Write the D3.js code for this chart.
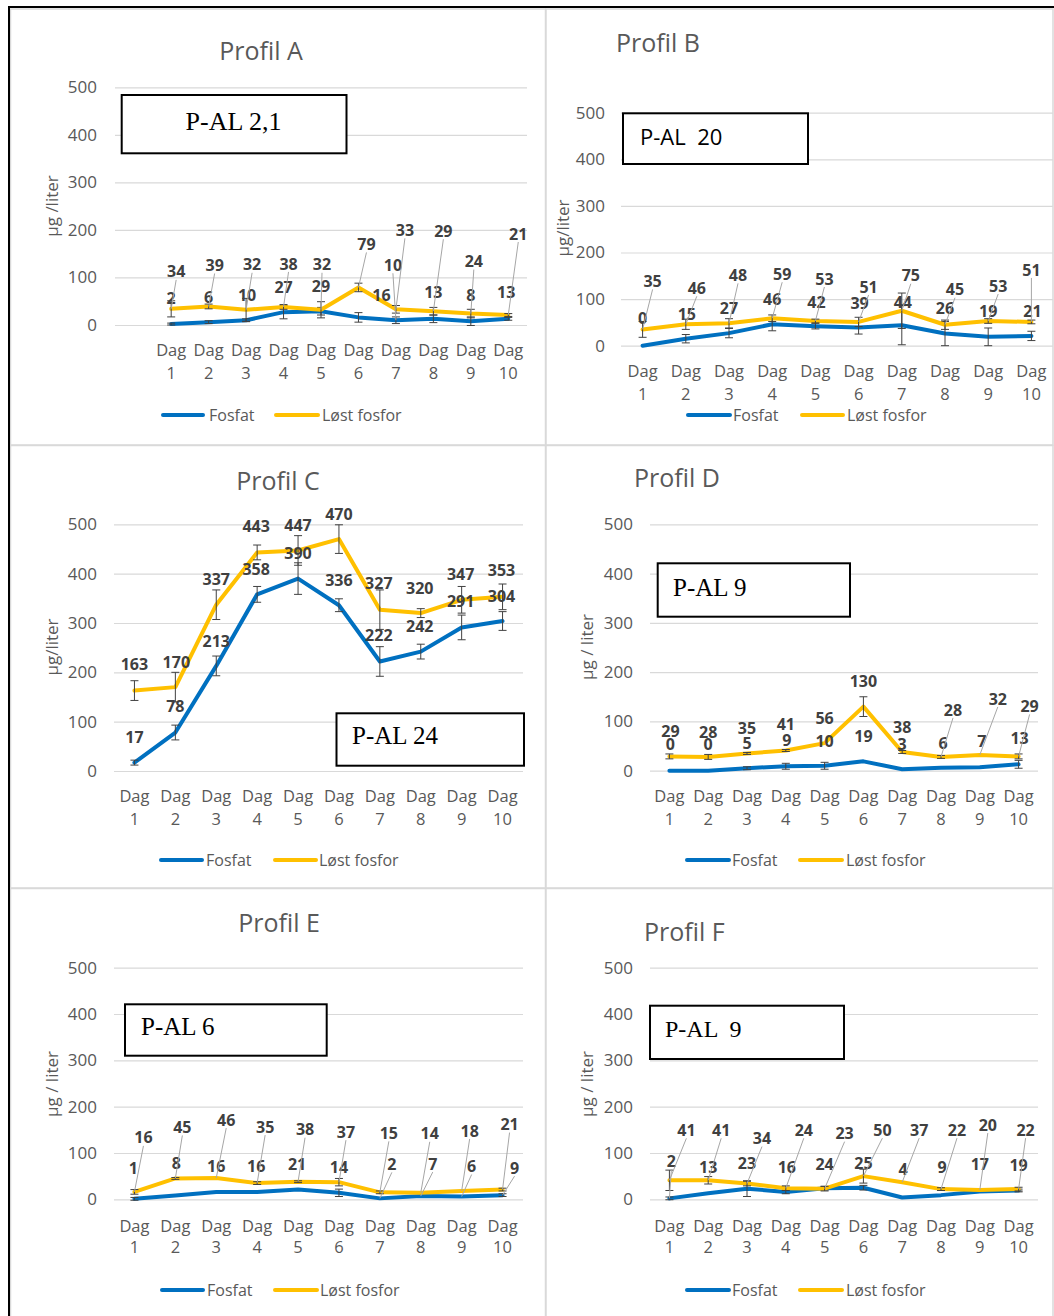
<!DOCTYPE html>
<html>
<head>
<meta charset="utf-8">
<script src="https://cdn.jsdelivr.net/npm/d3@7"></script>
<style>
  html, body { margin: 0; padding: 0; background: #fff; }
  svg { display: block; }
</style>
</head>
<body>
<svg id="chart" width="1054" height="1316"></svg>
<script>
// ---- shared categories and labels ----
const days = ["Dag 1", "Dag 2", "Dag 3", "Dag 4", "Dag 5", "Dag 6", "Dag 7", "Dag 8", "Dag 9", "Dag 10"];
const yTicks = [0, 100, 200, 300, 400, 500];
const seriesNames = ["Fosfat", "Løst fosfor"];
const profileTitles = ["Profil A", "Profil B", "Profil C", "Profil D", "Profil E", "Profil F"];
const palLabels = ["P-AL 2,1", "P-AL  20", "P-AL 24", "P-AL 9", "P-AL 6", "P-AL  9"];
const yAxisTitles = ["µg /liter", "µg/liter", "µg/liter", "µg / liter", "µg / liter", "µg / liter"];

// ---- measured values, µg/liter ----
const fosfatA = [2, 6, 10, 27, 29, 16, 10, 13, 8, 13];
const lostA   = [34, 39, 32, 38, 32, 79, 33, 29, 24, 21];
const sdFosfatA = [2, 3, 3, 14, 8, 10, 7, 8, 9, 3];
const sdLostA   = [17, 5, 24, 5, 17, 9, 8, 8, 9, 3];

const fosfatB = [0, 15, 27, 46, 42, 39, 44, 26, 19, 21];
const lostB   = [35, 46, 48, 59, 53, 51, 75, 45, 53, 51];
const sdFosfatB = [0, 9, 10, 14, 6, 14, 42, 26, 19, 10];
const sdLostB   = [17, 11, 10, 7, 4, 10, 38, 10, 5, 4];

const fosfatC = [17, 78, 213, 358, 390, 336, 222, 242, 291, 304];
const lostC   = [163, 170, 337, 443, 447, 470, 327, 320, 347, 353];
const sdFosfatC = [5, 15, 20, 16, 32, 13, 30, 15, 25, 19];
const sdLostC   = [20, 30, 30, 15, 30, 29, 40, 9, 27, 26];

const fosfatD = [0, 0, 5, 9, 10, 19, 3, 6, 7, 13];
const lostD   = [29, 28, 35, 41, 56, 130, 38, 28, 32, 29];
const sdFosfatD = [0, 0, 3, 6, 7, 0, 0, 0, 0, 8];
const sdLostD   = [5, 5, 2, 2, 0, 20, 3, 3, 0, 5];

const fosfatE = [1, 8, 16, 16, 21, 14, 2, 7, 6, 9];
const lostE   = [16, 45, 46, 35, 38, 37, 15, 14, 18, 21];
const sdFosfatE = [3, 0, 0, 0, 0, 8, 0, 0, 0, 3];
const sdLostE   = [5, 2, 0, 3, 2, 8, 3, 0, 0, 3];

const fosfatF = [2, 13, 23, 16, 24, 25, 4, 9, 17, 19];
const lostF   = [41, 41, 34, 24, 23, 50, 37, 22, 20, 22];
const sdFosfatF = [3, 0, 17, 4, 4, 5, 0, 0, 0, 3];
const sdLostF   = [22, 8, 5, 5, 5, 15, 0, 3, 0, 4];

// ---- value-label placement (pixel shift from the point) ----
const shiftFosfatA = [[0,-26],[0,-25],[1,-25],[0,-25],[0,-25],[23,-22],[-3,-55],[0,-26],[0,-26],[-2,-26]];
const shiftLostA   = [[5,-37],[6,-41],[6,-45],[5,-43],[1,-45],[8,-43],[9,-79],[10,-80],[3,-52],[10,-81]];
const shiftFosfatB = [[0,-27],[1,-24],[0,-25],[0,-25],[1,-24],[1,-24],[1,-23],[0,-25],[0,-25],[1,-25]];
const shiftLostB   = [[10,-48],[11,-36],[9,-48],[10,-44],[9,-42],[10,-35],[9,-35],[10,-35],[10,-35],[0,-52]];
const shiftFosfatC = [[0,-25],[0,-26],[0,-25],[-1,-25],[0,-25],[0,-25],[-1,-26],[-1,-25],[-1,-26],[-1,-25]];
const shiftLostC   = [[0,-26],[1,-25],[0,-25],[-1,-26],[0,-25],[0,-25],[-1,-26],[-1,-25],[-1,-25],[-1,-26]];
const shiftFosfatD = [[1,-26],[0,-26],[0,-25],[1,-26],[0,-24],[0,-25],[0,-25],[2,-24],[2,-26],[1,-26]];
const shiftLostD   = [[1,-25],[0,-25],[0,-25],[0,-26],[0,-25],[0,-25],[0,-25],[12,-47],[18,-56],[11,-50]];
const shiftFosfatE = [[-1,-30],[1,-32],[0,-25],[-1,-25],[-1,-25],[0,-25],[12,-34],[12,-32],[10,-30],[12,-27]];
const shiftLostE   = [[9,-54],[7,-51],[10,-58],[8,-56],[7,-52],[7,-50],[9,-59],[9,-59],[8,-60],[7,-65]];
const shiftFosfatF = [[2,-37],[0,-26],[0,-25],[1,-24],[0,-24],[0,-24],[1,-28],[1,-28],[0,-27],[0,-25]];
const shiftLostF   = [[17,-50],[13,-50],[15,-45],[18,-58],[20,-55],[19,-46],[17,-52],[16,-59],[8,-65],[7,-59]];

// ---- panel layout ----
const layouts = [
  { frame: [10.5, 9, 535, 436], title: [261, 51, "middle"], y0: 325, y500: 87.3, gx: [115, 527], lead: 1,
    tickRight: 97, yTitle: [52, 206], dagY: 350, numY: 373,
    legend: { y: 415, s1: [163, 203], t1: 209, s2: [276, 318], t2: 322 },
    box: [121.7, 95, 224.8, 58.3], boxText: [233.5, 130, "middle"], boxFont: "'Liberation Serif', serif", boxSize: 26 },
  { frame: [546, 9, 507, 436], title: [616, 43, "start"], y0: 345.7, y500: 112.7, gx: [621, 1053], lead: 0,
    tickRight: 605, yTitle: [563, 228], dagY: 371, numY: 394,
    legend: { y: 415, s1: [688, 730], t1: 733, s2: [802, 843], t2: 847 },
    box: [623, 113.3, 185, 50.7], boxText: [640, 145, "start"], boxFont: "'Open Sans', sans-serif", boxSize: 22 },
  { frame: [10.5, 445.5, 535, 442.5], title: [278, 481, "middle"], y0: 771, y500: 524.3, gx: [114, 523], lead: 0,
    tickRight: 97, yTitle: [52, 647], dagY: 796, numY: 819,
    legend: { y: 860, s1: [161, 202], t1: 206, s2: [275, 316], t2: 319 },
    box: [336.5, 713.3, 187.5, 52.4], boxText: [352, 744, "start"], boxFont: "'Liberation Serif', serif", boxSize: 25 },
  { frame: [546, 445.5, 507, 442.5], title: [634, 478, "start"], y0: 770.7, y500: 524.3, gx: [650, 1038], lead: 0,
    tickRight: 633, yTitle: [587, 647], dagY: 796, numY: 819,
    legend: { y: 860, s1: [687, 729], t1: 732, s2: [800, 842], t2: 846 },
    box: [657.7, 563.3, 192.3, 53.4], boxText: [673, 596, "start"], boxFont: "'Liberation Serif', serif", boxSize: 25 },
  { frame: [10.5, 888.5, 535, 430], title: [279, 923, "middle"], y0: 1199.3, y500: 967.7, gx: [114, 523], lead: 0,
    tickRight: 97, yTitle: [52, 1084], dagY: 1226, numY: 1247,
    legend: { y: 1290, s1: [162, 203], t1: 207, s2: [275, 317], t2: 320 },
    box: [125, 1004.3, 201.7, 51.4], boxText: [141, 1035, "start"], boxFont: "'Liberation Serif', serif", boxSize: 25 },
  { frame: [546, 888.5, 507, 430], title: [644, 932, "start"], y0: 1199.3, y500: 967.7, gx: [650, 1038], lead: 0,
    tickRight: 633, yTitle: [587, 1084], dagY: 1226, numY: 1247,
    legend: { y: 1290, s1: [687, 729], t1: 732, s2: [800, 842], t2: 846 },
    box: [650, 1005.7, 194, 53.3], boxText: [665, 1037, "start"], boxFont: "'Liberation Serif', serif", boxSize: 24 }
];

const panels = [
  { fos: fosfatA, lost: lostA, sdF: sdFosfatA, sdL: sdLostA, shF: shiftFosfatA, shL: shiftLostA },
  { fos: fosfatB, lost: lostB, sdF: sdFosfatB, sdL: sdLostB, shF: shiftFosfatB, shL: shiftLostB },
  { fos: fosfatC, lost: lostC, sdF: sdFosfatC, sdL: sdLostC, shF: shiftFosfatC, shL: shiftLostC },
  { fos: fosfatD, lost: lostD, sdF: sdFosfatD, sdL: sdLostD, shF: shiftFosfatD, shL: shiftLostD },
  { fos: fosfatE, lost: lostE, sdF: sdFosfatE, sdL: sdLostE, shF: shiftFosfatE, shL: shiftLostE },
  { fos: fosfatF, lost: lostF, sdF: sdFosfatF, sdL: sdLostF, shF: shiftFosfatF, shL: shiftLostF }
];

const BLUE = "#0070C0", YELLOW = "#FFC000";
const FONT = "'Open Sans', sans-serif";
const GREY_TEXT = "#595959", LABEL_TEXT = "#404040";

const svg = d3.select("#chart");
svg.append("rect").attr("width", 1054).attr("height", 1316).attr("fill", "#fff");

panels.forEach((p, k) => {
  const L = layouts[k];
  const g = svg.append("g");

  // chart-area outline
  g.append("rect")
    .attr("x", L.frame[0]).attr("y", L.frame[1])
    .attr("width", L.frame[2]).attr("height", L.frame[3])
    .attr("fill", "#fff").attr("stroke", "#d9d9d9").attr("stroke-width", 1.5);

  const y = d3.scaleLinear().domain([0, 500]).range([L.y0, L.y500]);
  const step = (L.gx[1] - L.gx[0]) / (days.length + L.lead);
  const x = d3.scaleBand().domain(days).range([L.gx[0] + L.lead * step, L.gx[1]]);
  const cx = d => x(d) + x.bandwidth() / 2;

  // value axis with gridlines
  const ax = g.append("g")
    .attr("transform", `translate(${L.gx[0]},0)`)
    .call(d3.axisLeft(y).tickValues(yTicks)
      .tickSize(-(L.gx[1] - L.gx[0]))
      .tickPadding(L.gx[0] - L.tickRight));
  ax.select(".domain").remove();
  ax.selectAll(".tick line").attr("stroke", "#d9d9d9").attr("stroke-width", 1.2);
  ax.selectAll(".tick text")
    .attr("fill", GREY_TEXT).attr("font-family", FONT).attr("font-size", 17);

  // category labels on two lines
  const xl = g.append("g").selectAll("text").data(days).join("text")
    .attr("text-anchor", "middle").attr("fill", GREY_TEXT)
    .attr("font-family", FONT).attr("font-size", 16.5);
  xl.append("tspan").attr("x", d => cx(d)).attr("y", L.dagY).attr("dy", "0.35em")
    .text(d => d.split(" ")[0]);
  xl.append("tspan").attr("x", d => cx(d)).attr("y", L.numY).attr("dy", "0.35em")
    .text(d => d.split(" ")[1]);

  // title and axis title
  g.append("text")
    .attr("x", L.title[0]).attr("y", L.title[1]).attr("dy", "0.35em")
    .attr("text-anchor", L.title[2])
    .attr("font-family", FONT).attr("font-size", 25).attr("fill", GREY_TEXT)
    .text(profileTitles[k]);
  g.append("text")
    .attr("transform", `translate(${L.yTitle[0]},${L.yTitle[1]}) rotate(-90)`)
    .attr("text-anchor", "middle").attr("dy", "0.35em")
    .attr("font-family", FONT).attr("font-size", 17).attr("fill", GREY_TEXT)
    .text(yAxisTitles[k]);

  const series = [
    { vals: p.fos, sd: p.sdF, shift: p.shF, color: BLUE },
    { vals: p.lost, sd: p.sdL, shift: p.shL, color: YELLOW }
  ];

  const line = d3.line().x((v, i) => cx(days[i])).y(v => y(v));

  series.forEach(s => {
    g.append("path").attr("d", line(s.vals))
      .attr("fill", "none").attr("stroke", s.color).attr("stroke-width", 4)
      .attr("stroke-linejoin", "round").attr("stroke-linecap", "round");
    // standard-deviation bars
    g.append("g").selectAll("path")
      .data(s.vals.map((v, i) => ({ v, e: s.sd[i], d: days[i] })).filter(o => o.e > 0))
      .join("path")
      .attr("d", o => {
        const xx = cx(o.d), hi = y(o.v + o.e), lo = y(o.v - o.e);
        return `M${xx - 4},${hi}H${xx + 4}M${xx},${hi}V${lo}M${xx - 4},${lo}H${xx + 4}`;
      })
      .attr("fill", "none").attr("stroke", "#404040").attr("stroke-width", 1);
  });

  // value labels, with a leader line back to the point when moved away from it
  const labelLayer = g.append("g");
  series.forEach(s => {
    s.vals.forEach((v, i) => {
      const px = cx(days[i]), py = y(v);
      const [dx, dy] = s.shift[i];
      const lx = px + dx, ly = py + dy;
      const needsLeader = dy <= -33 || (Math.abs(dx) >= 10 && dy < -25);
      if (needsLeader) {
        labelLayer.append("line")
          .attr("x1", lx).attr("y1", ly + 8).attr("x2", px).attr("y2", py)
          .attr("stroke", "#a6a6a6").attr("stroke-width", 1);
      }
      labelLayer.append("text")
        .attr("x", lx).attr("y", ly).attr("dy", "0.35em")
        .attr("text-anchor", "middle")
        .attr("font-family", FONT).attr("font-weight", 700).attr("font-size", 16)
        .attr("fill", LABEL_TEXT)
        .text(String(v));
    });
  });

  // legend
  const lg = g.append("g");
  [[L.legend.s1, L.legend.t1, BLUE], [L.legend.s2, L.legend.t2, YELLOW]].forEach((it, j) => {
    lg.append("line")
      .attr("x1", it[0][0]).attr("x2", it[0][1]).attr("y1", L.legend.y).attr("y2", L.legend.y)
      .attr("stroke", it[2]).attr("stroke-width", 4).attr("stroke-linecap", "round");
    lg.append("text")
      .attr("x", it[1]).attr("y", L.legend.y).attr("dy", "0.35em")
      .attr("font-family", FONT).attr("font-size", 16).attr("fill", GREY_TEXT)
      .text(seriesNames[j]);
  });

  // P-AL text box
  g.append("rect")
    .attr("x", L.box[0]).attr("y", L.box[1]).attr("width", L.box[2]).attr("height", L.box[3])
    .attr("fill", "#fff").attr("stroke", "#000").attr("stroke-width", 2);
  g.append("text")
    .attr("x", L.boxText[0]).attr("y", L.boxText[1])
    .attr("text-anchor", L.boxText[2])
    .style("white-space", "pre")
    .attr("font-family", L.boxFont).attr("font-size", L.boxSize).attr("fill", "#000")
    .text(palLabels[k]);
});

// outer page frame
svg.append("line").attr("x1", 8).attr("x2", 1054).attr("y1", 7).attr("y2", 7)
  .attr("stroke", "#000").attr("stroke-width", 2);
svg.append("line").attr("x1", 9).attr("x2", 9).attr("y1", 6).attr("y2", 1316)
  .attr("stroke", "#000").attr("stroke-width", 2);
</script>
</body>
</html>
